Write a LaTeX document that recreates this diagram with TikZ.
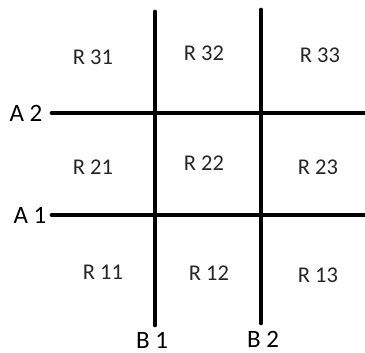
\documentclass[tikz,border=0pt]{standalone}
\usepackage{fontspec}
\setmainfont{Carlito}
\begin{document}
\begin{tikzpicture}[x=1pt,y=-1pt,
  axis/.style={line width=4.7pt,line cap=round,black},
  region/.style={font=\fontsize{22.5}{26}\selectfont,text=black!85,inner sep=0pt},
  axlabel/.style={font=\fontsize{25}{28}\selectfont,text=black,inner sep=0pt}]
\useasboundingbox[fill=white] (0,0) rectangle (365,353);
\coordinate (b1t) at (155,12);
\coordinate (b1b) at (155,325);
\coordinate (b2t) at (261,10);
\coordinate (b2b) at (261,323);
\coordinate (a2l) at (52,113);
\coordinate (a2r) at (367,113);
\coordinate (a1l) at (52,215);
\coordinate (a1r) at (367,215);
\draw[axis] (a2l) -- (a2r);
\draw[axis] (a1l) -- (a1r);
\draw[axis] (b1t) -- (b1b);
\draw[axis] (b2t) -- (b2b);
\node[axlabel] (la2) at (26,113) {A 2};
\node[axlabel] (la1) at (30,215) {A 1};
\node[axlabel] (lb1) at (152,340) {B 1};
\node[axlabel] (lb2) at (263,339) {B 2};
\node[region] (r31) at (93,57) {R 31};
\node[region] (r32) at (204,53) {R 32};
\node[region] (r33) at (320,55) {R 33};
\node[region] (r21) at (93,167) {R 21};
\node[region] (r22) at (204,163) {R 22};
\node[region] (r23) at (318,167) {R 23};
\node[region] (r11) at (103,272) {R 11};
\node[region] (r12) at (209,273) {R 12};
\node[region] (r13) at (318,275) {R 13};
\end{tikzpicture}
\end{document}
